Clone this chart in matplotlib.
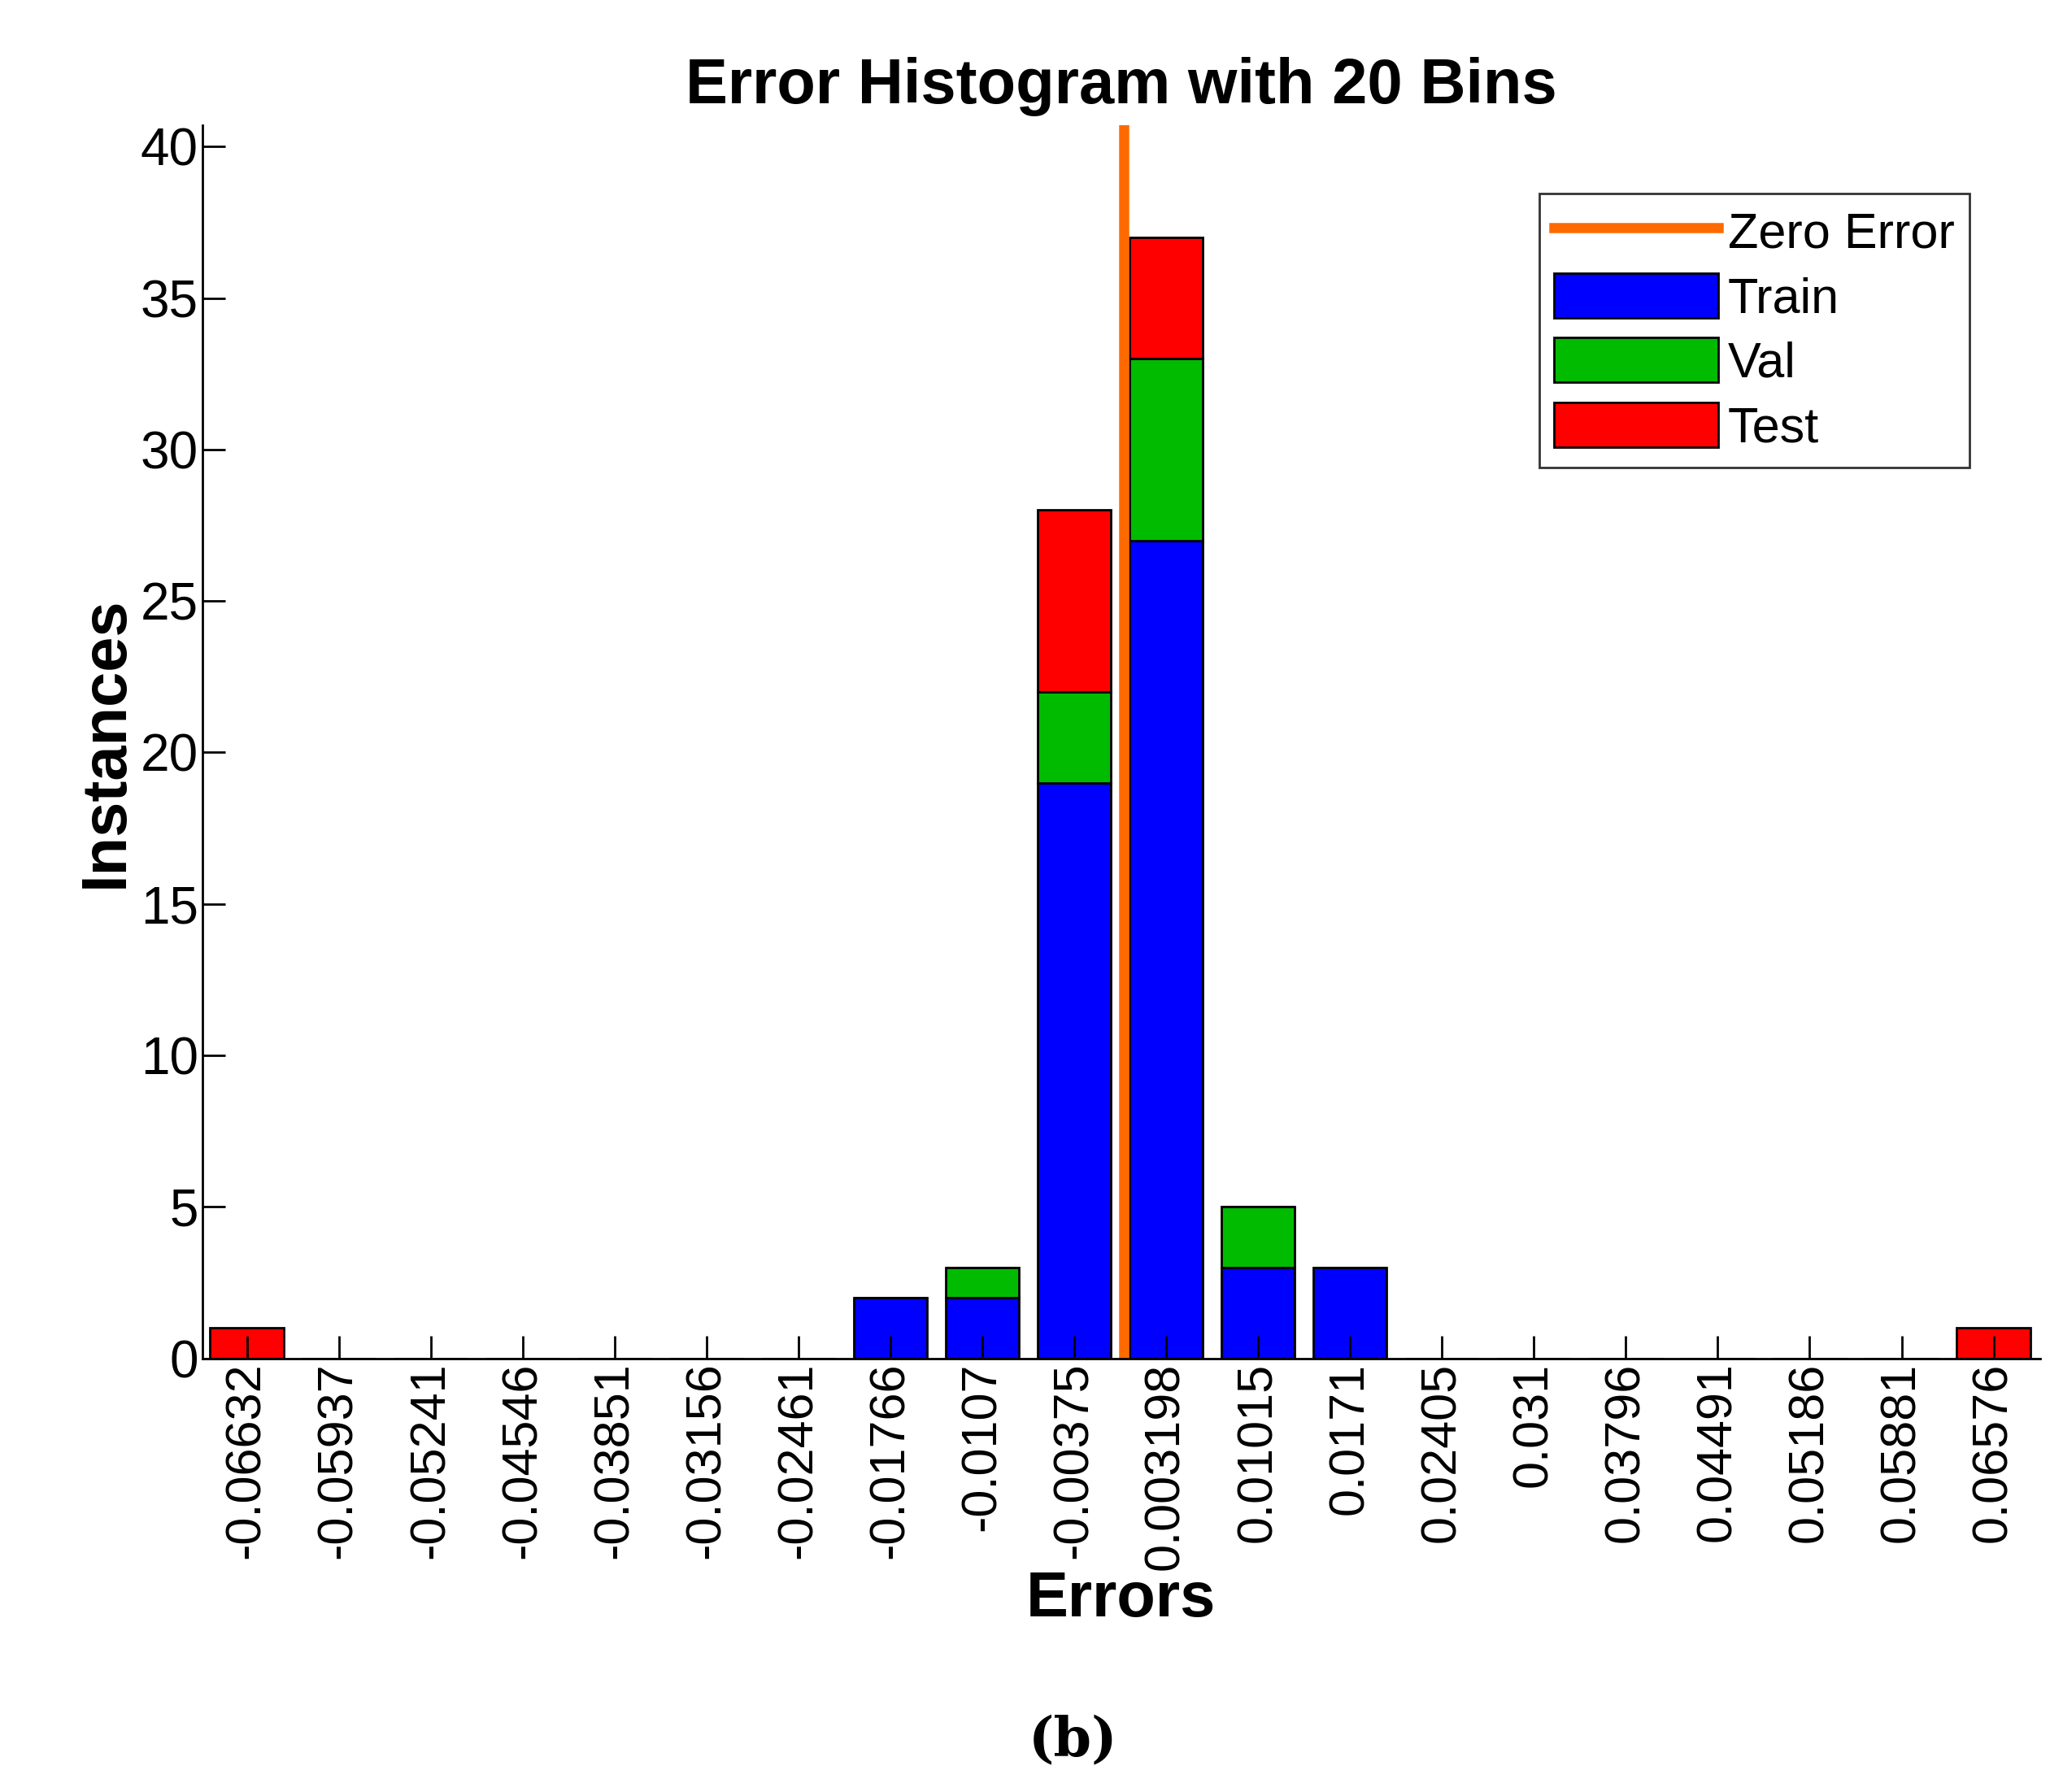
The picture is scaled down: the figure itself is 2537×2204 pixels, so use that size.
import matplotlib
matplotlib.use("Agg")
import matplotlib.pyplot as plt
import numpy as np

centers = [-0.06632,-0.05937,-0.05241,-0.04546,-0.03851,-0.03156,-0.02461,-0.01766,-0.0107,-0.00375,
           0.003198,0.01015,0.0171,0.02405,0.031,0.03796,0.04491,0.05186,0.05881,0.06576]
labels = ["-0.06632","-0.05937","-0.05241","-0.04546","-0.03851","-0.03156","-0.02461","-0.01766","-0.0107","-0.00375",
          "0.003198","0.01015","0.0171","0.02405","0.031","0.03796","0.04491","0.05186","0.05881","0.06576"]
train = [0,0,0,0,0,0,0,2,2,19,27,3,3,0,0,0,0,0,0,0]
val   = [0,0,0,0,0,0,0,0,1,3,6,2,0,0,0,0,0,0,0,0]
test  = [1,0,0,0,0,0,0,0,0,6,4,0,0,0,0,0,0,0,0,1]

plt.rcParams['font.family'] = ['Arial', 'Liberation Sans', 'DejaVu Sans']
fig = plt.figure(figsize=(25.37, 22.04), dpi=100)
ax = fig.add_axes([0.098, 0.242, 0.891, 0.688])
w = 0.006948 * 0.8
x = np.array(centers)
tr = np.array(train); va = np.array(val); te = np.array(test)
ax.bar(x, tr, w, color='#0000ff', edgecolor='black', linewidth=2, label='Train')
ax.bar(x, va, w, bottom=tr, color='#00bb00', edgecolor='black', linewidth=2, label='Val')
ax.bar(x, te, w, bottom=tr+va, color='#ff0000', edgecolor='black', linewidth=2, label='Test')
ax.axvline(0, color='#ff6a00', linewidth=9, label='Zero Error')
ax.set_xlim(-0.0697, 0.0693)
ax.set_ylim(0, 40.7)
ax.set_xticks(centers)
ax.set_xticklabels(labels, rotation=90, fontsize=44)
ax.set_yticks(range(0, 41, 5))
ax.tick_params(axis='y', labelsize=46, direction='in', length=20, width=2)
ax.tick_params(axis='x', direction='in', length=20, width=2)
for s in ['top', 'right']:
    ax.spines[s].set_visible(False)
for s in ['left', 'bottom']:
    ax.spines[s].set_linewidth(2)
ax.set_title('Error Histogram with 20 Bins', fontsize=56, fontweight='bold', pad=20)
ax.set_xlabel('Errors', fontsize=56, fontweight='bold', labelpad=0)
ax.set_ylabel('Instances', fontsize=56, fontweight='bold')
leg = ax.legend(loc='upper right', bbox_to_anchor=(0.975, 0.965), fontsize=44, frameon=True,
                fancybox=False, edgecolor='black', handlelength=3.3, handleheight=1.0,
                borderpad=0.3, labelspacing=0.3, handletextpad=0.2)
leg.get_frame().set_linewidth(2)
fig.text(0.52, 0.02, '(b)', fontsize=48, fontweight='bold', family='DejaVu Serif', ha='center')
fig.savefig('out.png', dpi=100)
